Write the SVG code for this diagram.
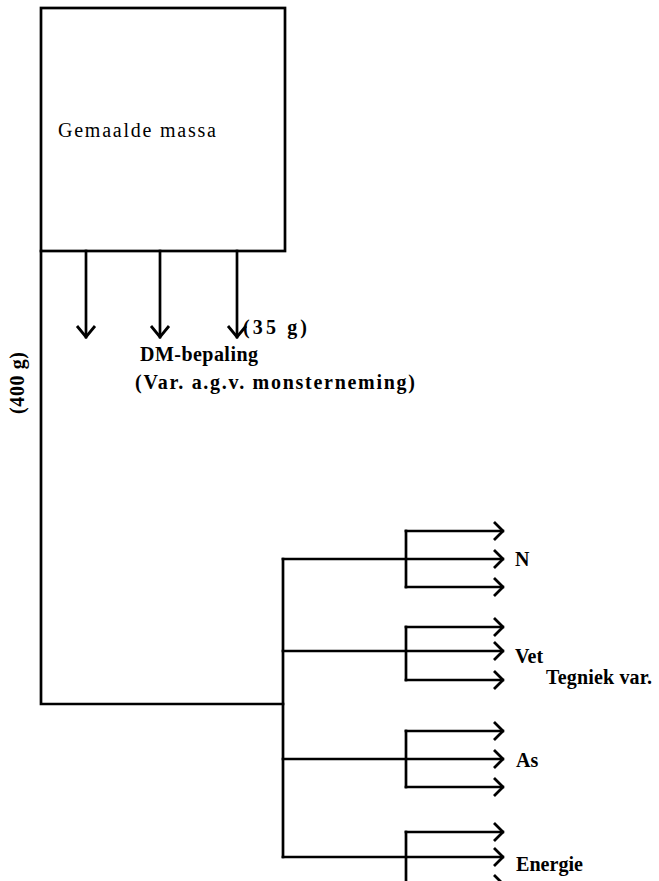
<svg xmlns="http://www.w3.org/2000/svg" width="659" height="881" viewBox="0 0 659 881">
<defs>
<style>
.ln{fill:none;stroke:#000;stroke-width:2.7;stroke-linecap:square;stroke-linejoin:miter}
.t{font-family:"Liberation Serif","Times New Roman",serif;font-size:20px;fill:#000}
.b{font-weight:bold}
</style>
<marker id="ar" viewBox="0 0 12 20" refX="11" refY="10" markerWidth="12" markerHeight="20" markerUnits="userSpaceOnUse" orient="auto">
<path d="M2,1 L11,10 L2,19" fill="none" stroke="#000" stroke-width="2.8"/>
</marker>
<marker id="ad" viewBox="0 0 14 22" refX="12" refY="11" markerWidth="14" markerHeight="22" markerUnits="userSpaceOnUse" orient="auto">
<path d="M1,2 L12,11 L1,20" fill="none" stroke="#000" stroke-width="2.8"/>
</marker>
</defs>
<rect width="659" height="881" fill="#fff"/>

<g id="node-gemaalde-massa">
<rect x="41" y="8" width="244" height="243" class="ln"/>
<text class="t" x="58" y="137" textLength="158" lengthAdjust="spacing">Gemaalde  massa</text>
</g>

<g id="connectors">
<path class="ln" d="M41,251 L41,704 L283,704"/>
<path class="ln" d="M283,559 L283,857"/>
<path class="ln" d="M86,251 L86,337" marker-end="url(#ad)"/>
<path class="ln" d="M160,251 L160,337" marker-end="url(#ad)"/>
<path class="ln" d="M237,251 L237,337" marker-end="url(#ad)"/>
<path class="ln" d="M283,559 L503,559" marker-end="url(#ar)"/>
<path class="ln" d="M283,651 L503,651" marker-end="url(#ar)"/>
<path class="ln" d="M283,759 L503,759" marker-end="url(#ar)"/>
<path class="ln" d="M283,857 L503,857" marker-end="url(#ar)"/>
<path class="ln" d="M406,531 L406,587"/>
<path class="ln" d="M406,531 L503,531" marker-end="url(#ar)"/>
<path class="ln" d="M406,587 L503,587" marker-end="url(#ar)"/>
<path class="ln" d="M406,627 L406,680"/>
<path class="ln" d="M406,627 L503,627" marker-end="url(#ar)"/>
<path class="ln" d="M406,680 L503,680" marker-end="url(#ar)"/>
<path class="ln" d="M406,731 L406,787"/>
<path class="ln" d="M406,731 L503,731" marker-end="url(#ar)"/>
<path class="ln" d="M406,787 L503,787" marker-end="url(#ar)"/>
<path class="ln" d="M406,832 L406,884"/>
<path class="ln" d="M406,832 L503,832" marker-end="url(#ar)"/>
<path class="ln" d="M406,884 L503,884" marker-end="url(#ar)"/>
</g>

<g id="label-400g">
<text class="t b" transform="translate(24,383) rotate(-90)" text-anchor="middle" font-size="18" textLength="62" lengthAdjust="spacing">(400 g)</text>
</g>

<g id="node-dm-bepaling">
<text class="t b" x="243" y="334" textLength="64" lengthAdjust="spacing">(35  g)</text>
<text class="t b" x="140" y="361" textLength="118" lengthAdjust="spacing">DM-bepaling</text>
<text class="t b" x="135" y="389" textLength="280" lengthAdjust="spacing">(Var.  a.g.v.  monsterneming)</text>
</g>

<g id="node-n"><text class="t b" x="515" y="566">N</text></g>
<g id="node-vet"><text class="t b" x="515" y="663">Vet</text></g>
<g id="node-tegniek"><text class="t b" x="546" y="684" textLength="106" lengthAdjust="spacing">Tegniek var.</text></g>
<g id="node-as"><text class="t b" x="516" y="767">As</text></g>
<g id="node-energie"><text class="t b" x="516" y="871" textLength="67" lengthAdjust="spacingAndGlyphs">Energie</text></g>
</svg>
